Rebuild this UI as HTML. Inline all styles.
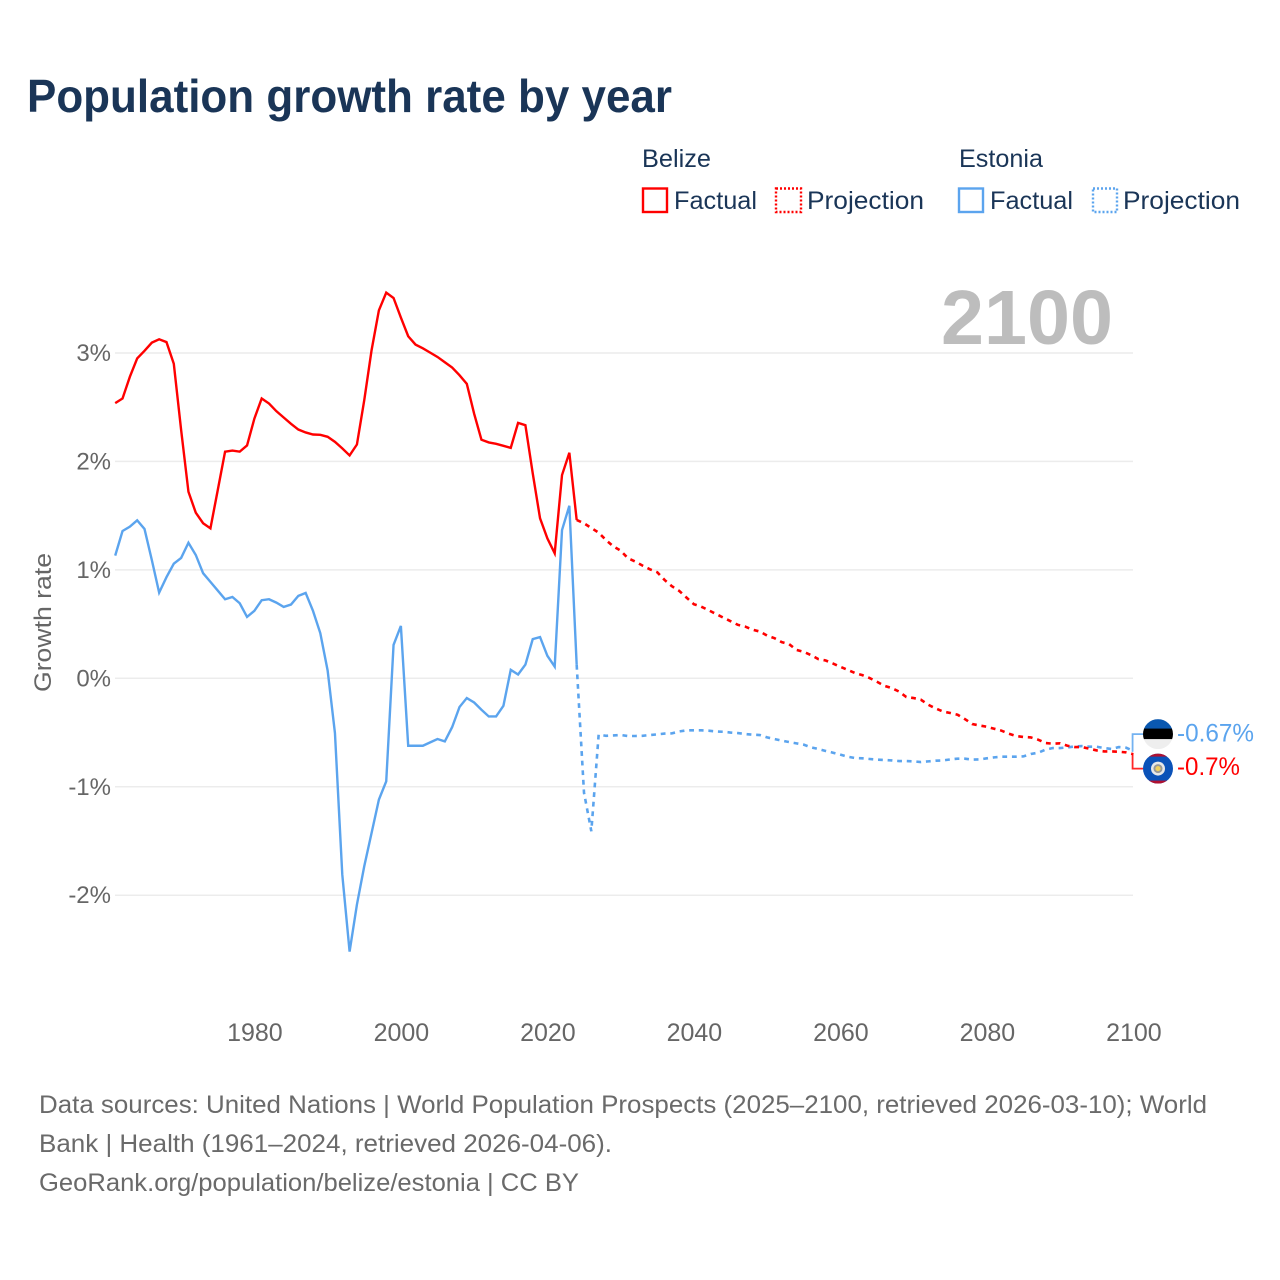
<!DOCTYPE html>
<html lang="en">
<head>
<meta charset="utf-8">
<title>Population growth rate by year</title>
<style>
html,body{margin:0;padding:0;background:#fff;}
svg{display:block;}
text{font-family:"Liberation Sans",sans-serif;}
</style>
</head>
<body>
<svg id="chart" xmlns="http://www.w3.org/2000/svg" width="1280" height="1280" viewBox="0 0 1280 1280">
  <defs>
    <clipPath id="flag-clip-ee"><circle cx="0" cy="0" r="15"/></clipPath>
    <clipPath id="flag-clip-bz"><circle cx="0" cy="0" r="15"/></clipPath>
  </defs>
  <rect width="1280" height="1280" fill="#fff"/>
  <text x="27" y="112" font-size="46" font-weight="700" fill="#1a3557" textLength="645" lengthAdjust="spacingAndGlyphs">Population growth rate by year</text>

  <g font-size="25" fill="#1a3557">
    <text x="642" y="167" textLength="69" lengthAdjust="spacingAndGlyphs">Belize</text>
    <text x="959" y="167" textLength="84" lengthAdjust="spacingAndGlyphs">Estonia</text>
    <rect x="643" y="188.5" width="24" height="23.5" fill="none" stroke="#ff0000" stroke-width="2.4"/>
    <text x="674" y="209" textLength="83" lengthAdjust="spacingAndGlyphs">Factual</text>
    <rect x="776" y="188.5" width="25" height="23.5" fill="none" stroke="#ff0000" stroke-width="2.4" stroke-dasharray="2 2"/>
    <text x="807" y="209" textLength="117" lengthAdjust="spacingAndGlyphs">Projection</text>
    <rect x="959" y="188.5" width="24" height="23.5" fill="none" stroke="#5ba4ee" stroke-width="2.4"/>
    <text x="990" y="209" textLength="83" lengthAdjust="spacingAndGlyphs">Factual</text>
    <rect x="1093" y="188.5" width="24" height="23.5" fill="none" stroke="#5ba4ee" stroke-width="2.4" stroke-dasharray="2 2"/>
    <text x="1123" y="209" textLength="117" lengthAdjust="spacingAndGlyphs">Projection</text>
  </g>

  <g id="grid"></g>
  <text x="941" y="344" font-size="77" font-weight="700" fill="#bdbdbd" textLength="172" lengthAdjust="spacingAndGlyphs">2100</text>
  <g id="y-ticks" font-size="24" fill="#666" text-anchor="end"></g>
  <g id="x-ticks" font-size="25" fill="#666" text-anchor="middle"></g>
  <text transform="translate(51 692) rotate(-90)" font-size="24" fill="#666" textLength="139" lengthAdjust="spacingAndGlyphs">Growth rate</text>
  <g id="series"></g>
  <g id="end-labels"></g>

  <g font-size="25" fill="#6a6a6a">
    <text x="39" y="1113" textLength="1168" lengthAdjust="spacingAndGlyphs">Data sources: United Nations | World Population Prospects (2025–2100, retrieved 2026-03-10); World</text>
    <text x="39" y="1152" textLength="573" lengthAdjust="spacingAndGlyphs">Bank | Health (1961–2024, retrieved 2026-04-06).</text>
    <text x="39" y="1191" textLength="540" lengthAdjust="spacingAndGlyphs">GeoRank.org/population/belize/estonia | CC BY</text>
  </g>
</svg>
<script>
const xTickLabels = [1980, 2000, 2020, 2040, 2060, 2080, 2100];
const yTickValues = [3, 2, 1, 0, -1, -2];
const factualStartYear = 1961;
const projectionStartYear = 2024;

const belizeFactual = [2.537,2.58,2.78,2.95,3.02,3.095,3.126,3.10,2.90,2.29,1.72,1.527,1.43,1.383,1.735,2.09,2.10,2.09,2.147,2.395,2.58,2.534,2.463,2.405,2.347,2.294,2.267,2.248,2.245,2.227,2.18,2.12,2.055,2.156,2.564,3.025,3.393,3.556,3.507,3.326,3.154,3.077,3.043,3.003,2.963,2.914,2.865,2.795,2.715,2.44,2.20,2.175,2.162,2.144,2.125,2.355,2.334,1.89,1.475,1.29,1.153,1.874,2.08,1.46];
const belizeProjection = [1.46,1.429,1.386,1.343,1.275,1.217,1.177,1.107,1.076,1.039,1.005,.978,.907,.849,.806,.744,.683,.661,.628,.594,.56,.527,.493,.477,.449,.431,.394,.37,.333,.315,.262,.244,.214,.177,.164,.136,.106,.078,.048,.029,.002,-.032,-.069,-.09,-.122,-.173,-.182,-.198,-.244,-.278,-.306,-.32,-.336,-.376,-.422,-.435,-.447,-.465,-.483,-.511,-.532,-.541,-.545,-.566,-.597,-.603,-.60,-.622,-.634,-.634,-.649,-.665,-.674,-.674,-.677,-.683,-.70];
const estoniaFactual = [1.131,1.358,1.398,1.457,1.377,1.091,.79,.932,1.057,1.11,1.25,1.137,.969,.889,.809,.729,.75,.692,.566,.622,.72,.729,.698,.658,.68,.76,.787,.622,.416,.072,-.505,-1.81,-2.52,-2.086,-1.733,-1.426,-1.119,-.95,.308,.483,-.622,-.622,-.622,-.591,-.56,-.582,-.45,-.265,-.182,-.223,-.29,-.352,-.352,-.253,.078,.035,.127,.361,.38,.207,.108,1.367,1.591,.124];
const estoniaProjection = [.124,-1.055,-1.41,-.52,-.53,-.527,-.523,-.532,-.532,-.53,-.523,-.517,-.51,-.508,-.49,-.48,-.48,-.48,-.483,-.49,-.493,-.50,-.505,-.514,-.52,-.523,-.545,-.56,-.575,-.588,-.60,-.612,-.637,-.652,-.67,-.686,-.704,-.723,-.735,-.738,-.744,-.75,-.753,-.757,-.763,-.763,-.766,-.772,-.766,-.76,-.757,-.748,-.741,-.741,-.75,-.748,-.738,-.729,-.723,-.723,-.723,-.72,-.698,-.686,-.658,-.643,-.643,-.637,-.628,-.625,-.631,-.631,-.643,-.652,-.634,-.64,-.67];
const endValueLabels = ["-0.67%", "-0.7%"];

const NS = "http://www.w3.org/2000/svg";
const xScale = function (year) { return 115.2 + (year - 1961) * 7.325; };
const yScale = function (value) { return 678.3 - value * 108.45; };
const RED = "#ff0000";
const BLUE = "#5ba4ee";

function make(parent, tag, attrs) {
  const el = document.createElementNS(NS, tag);
  for (const k in attrs) el.setAttribute(k, attrs[k]);
  parent.appendChild(el);
  return el;
}

const gridG = document.getElementById("grid");
const yG = document.getElementById("y-ticks");
const xG = document.getElementById("x-ticks");
const seriesG = document.getElementById("series");
const endG = document.getElementById("end-labels");

yTickValues.forEach(function (v) {
  const line = make(gridG, "line", { x1: 115, x2: 1133, y1: yScale(v), y2: yScale(v), stroke: "#ececec", "stroke-width": 1.5 });
  
  
  const t = make(yG, "text", { x: 111, y: yScale(v) + 8 });
  
  
  t.textContent = v + "%";
});

xTickLabels.forEach(function (year) {
  const t = make(xG, "text", { x: xScale(year) + 0.5, y: 1041 });
  
  
  t.textContent = year;
});

function pathFrom(values, startYear) {
  return values.map(function (v, i) {
    return (i ? "L" : "M") + xScale(startYear + i).toFixed(2) + " " + yScale(v).toFixed(2);
  }).join("");
}

function drawLine(values, startYear, color, dashed) {
  const attrs = { d: pathFrom(values, startYear), fill: "none", stroke: color, "stroke-width": dashed ? 2.6 : 2.4, "stroke-linejoin": "miter" };
  if (dashed) attrs["stroke-dasharray"] = "4.8 4.8";
  return make(seriesG, "path", attrs);
}

const l1 = drawLine(estoniaFactual, factualStartYear, BLUE, false);


const l2 = drawLine(estoniaProjection, projectionStartYear, BLUE, true);


const l3 = drawLine(belizeFactual, factualStartYear, RED, false);


const l4 = drawLine(belizeProjection, projectionStartYear, RED, true);



const endX = xScale(2100);
const blueEnd = yScale(estoniaProjection[estoniaProjection.length - 1]);
const redEnd = yScale(belizeProjection[belizeProjection.length - 1]);
const midEnd = (blueEnd + redEnd) / 2;
const blueY = midEnd - 18.5;
const redY = midEnd + 16;

const c1 = make(endG, "path", { d: "M" + endX + " " + blueEnd + "L" + (endX - 0.8) + " " + blueEnd + "V" + blueY + "H1143", fill: "none", stroke: BLUE, "stroke-width": 1.8, opacity: 0.85 });


const c2 = make(endG, "path", { d: "M" + endX + " " + redEnd + "L" + (endX - 0.8) + " " + redEnd + "V" + redY + "H1143", fill: "none", stroke: RED, "stroke-width": 1.8, opacity: 0.85 });



const ee = make(endG, "g", { transform: "translate(1158 " + blueY + ")", "clip-path": "url(#flag-clip-ee)" });


make(ee, "rect", { x: -15, y: -15, width: 30, height: 10, fill: "#0a58b0" });
make(ee, "rect", { x: -15, y: -5.5, width: 30, height: 11, fill: "#000" });
make(ee, "rect", { x: -15, y: 5, width: 30, height: 10, fill: "#eeeeee" });

const bz = make(endG, "g", { transform: "translate(1158 " + redY + ")", "clip-path": "url(#flag-clip-bz)" });


make(bz, "rect", { x: -15, y: -15, width: 30, height: 30, fill: "#0b52b8" });
make(bz, "rect", { x: -15, y: -15, width: 30, height: 3, fill: "#b01030" });
make(bz, "rect", { x: -15, y: 12, width: 30, height: 3, fill: "#b01030" });
make(bz, "circle", { cx: 0, cy: 0, r: 7, fill: "#e8e8e8" });
make(bz, "circle", { cx: 0, cy: 0, r: 4.5, fill: "#999" });
make(bz, "circle", { cx: 0, cy: 0, r: 2.6, fill: "#f0d060" });

const t1 = make(endG, "text", { x: 1177, y: blueY + 7.5, "font-size": 25, fill: BLUE, textLength: 77, lengthAdjust: "spacingAndGlyphs" });


t1.textContent = endValueLabels[0];
const t2 = make(endG, "text", { x: 1177, y: redY + 6.5, "font-size": 25, fill: RED, textLength: 63, lengthAdjust: "spacingAndGlyphs" });


t2.textContent = endValueLabels[1];
</script>
</body>
</html>
